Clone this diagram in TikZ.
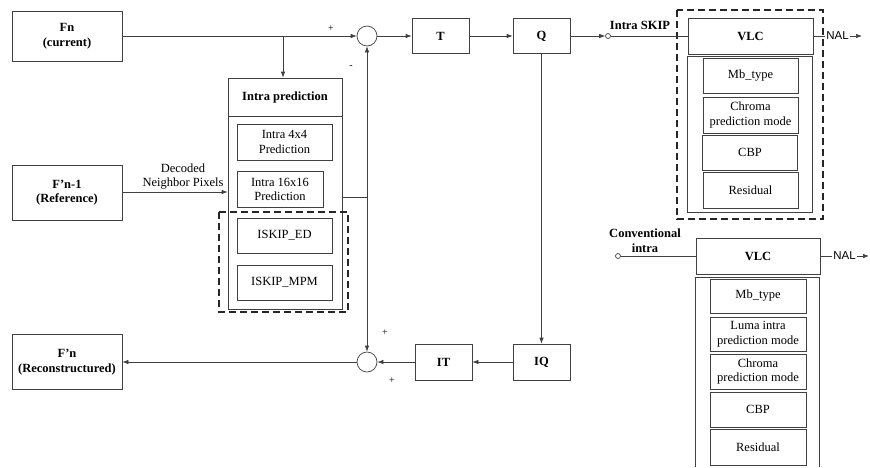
\documentclass[tikz,border=0pt]{standalone}
\usepackage{fontspec}
\setmainfont{Liberation Serif}
\newfontfamily\nalfont{Liberation Sans}
\usetikzlibrary{arrows.meta}
\begin{document}
\begin{tikzpicture}[x=1pt,y=-1pt,line width=0.7pt,
    font=\fontsize{12.5}{14.5}\selectfont,
    >={Latex[length=6pt,width=4.5pt]},
    box/.style={draw=black!75,rectangle,inner sep=0pt,align=center},
    bold/.style={font=\fontsize{12.5}{14.5}\selectfont\bfseries},
    sumc/.style={draw=black!75,circle,minimum size=20,inner sep=0pt},
    skipc/.style={draw=black!75,circle,minimum size=5,inner sep=0pt},
    sign/.style={inner sep=0pt,font=\fontsize{10}{10}\selectfont},
    wire/.style={draw=black!75},
    dashbox/.style={draw=black!85,line width=1.2pt,dash pattern=on 7pt off 4pt}]
  \useasboundingbox (0,0) rectangle (870,467);
  % left side frames
  \node[box,bold,minimum width=110,minimum height=50] (fn) at (67,36) {Fn\\(current)};
  \node[box,bold,minimum width=110,minimum height=55] (fref) at (67,192.5) {F'n-1\\(Reference)};
  \node[box,bold,minimum width=110,minimum height=55] (frec) at (67,362) {F'n\\(Reconstructured)};
  % summing points
  \node[sumc] (sum1) at (367,36) {};
  \node[sumc] (sum2) at (367,362) {};
  \node[sign] (p1) at (331,29) {+};
  \node[sign] (m1) at (351,67) {-};
  \node[sign] (p2) at (385,333) {+};
  \node[sign] (p3) at (392,381) {+};
  % transform / quantisation
  \node[box,bold,minimum width=57,minimum height=35] (t) at (440.5,36) {T};
  \node[box,bold,minimum width=57,minimum height=35] (q) at (541.5,36) {Q};
  \node[box,bold,minimum width=57,minimum height=36] (it) at (443.5,362) {IT};
  \node[box,bold,minimum width=57,minimum height=36] (iq) at (541.5,362) {IQ};
  % intra prediction
  \node[box,bold,minimum width=114,minimum height=38] (iphead) at (285,97) {Intra prediction};
  \node[box,minimum width=114,minimum height=193,anchor=north] (ipbody) at (iphead.south) {};
  \node[box,minimum width=95,minimum height=36] (i4) at (284.5,142) {Intra 4x4\\Prediction};
  \node[box,minimum width=86,minimum height=36] (i16) at (280,189.5) {Intra 16x16\\Prediction};
  \node[box,minimum width=95,minimum height=35] (ised) at (284.5,235.5) {ISKIP\_ED};
  \node[box,minimum width=95,minimum height=35] (ismpm) at (284.5,282.5) {ISKIP\_MPM};
  \draw[dashbox] (219,212) rectangle (348,312);
  \node[anchor=south,align=center,inner sep=0pt] (dnp) at (183,190) {Decoded\\Neighbor Pixels};
  % connections
  \coordinate (br) at (283,36);
  \coordinate (fb) at (367,197);
  \draw[wire,->] (fn) -- (sum1);
  \draw[wire,->] (br) -- (br |- iphead.north);
  \draw[wire,->] (sum1) -- (t);
  \draw[wire,->] (t) -- (q);
  \draw[wire,->] (fref.east |- 0,192) -- (ipbody.west |- 0,192);
  \draw[wire] (ipbody.east |- fb) -- (fb);
  \draw[wire,->] (fb) -- (sum1);
  \draw[wire,->] (fb) -- (sum2);
  \draw[wire,->] (q) -- (iq);
  \draw[wire,->] (iq) -- (it);
  \draw[wire,->] (it) -- (sum2);
  \draw[wire,->] (sum2) -- (frec);
  % intra skip coding
  \node[skipc] (skip) at (608,36) {};
  \node[bold,anchor=base] (skiplbl) at (640,29.5) {Intra SKIP};
  \draw[dashbox] (677,10) rectangle (823,219);
  \node[box,bold,minimum width=125,minimum height=36] (vlc1) at (750.5,36) {VLC};
  \node[box,minimum width=125,minimum height=156,anchor=north] (body1) at (749.5,56) {};
  \node[box,minimum width=95,minimum height=35] (mb1) at (750.5,75.5) {Mb\_type};
  \node[box,minimum width=95,minimum height=36] (chroma1) at (750.5,115) {Chroma\\prediction mode};
  \node[box,minimum width=95,minimum height=35] (cbp1) at (750,152.5) {CBP};
  \node[box,minimum width=95,minimum height=36] (res1) at (750.5,190) {Residual};
  \node[anchor=west,inner sep=1pt,font=\fontsize{11.5}{12}\nalfont] (nal1) at (825,36) {NAL};
  \coordinate (out1) at (862,36);
  \draw[wire,->] (q) -- (skip);
  \draw[wire] (skip) -- (vlc1);
  \draw[wire] (vlc1) -- (nal1);
  \draw[wire,->] (nal1) -- (out1);
  % conventional intra coding
  \node[bold,align=center] (conv) at (645,240.5) {Conventional\\intra};
  \node[skipc] (cskip) at (618,256) {};
  \node[box,bold,minimum width=124,minimum height=36] (vlc2) at (758,256) {VLC};
  \draw[wire] (695,467) -- (695,277) -- (819,277) -- (819,467);
  \node[box,minimum width=96,minimum height=34] (mb2) at (758,296) {Mb\_type};
  \node[box,minimum width=96,minimum height=34] (luma2) at (758,334) {Luma intra\\prediction mode};
  \node[box,minimum width=96,minimum height=35] (chroma2) at (758,371.5) {Chroma\\prediction mode};
  \node[box,minimum width=96,minimum height=35] (cbp2) at (758,409.5) {CBP};
  \node[box,minimum width=96,minimum height=36] (res2) at (758,447) {Residual};
  \node[anchor=west,inner sep=1pt,font=\fontsize{11.5}{12}\nalfont] (nal2) at (832,256) {NAL};
  \coordinate (out2) at (869,256);
  \draw[wire] (cskip) -- (vlc2);
  \draw[wire] (vlc2) -- (nal2);
  \draw[wire,->] (nal2) -- (out2);
\end{tikzpicture}
\end{document}
